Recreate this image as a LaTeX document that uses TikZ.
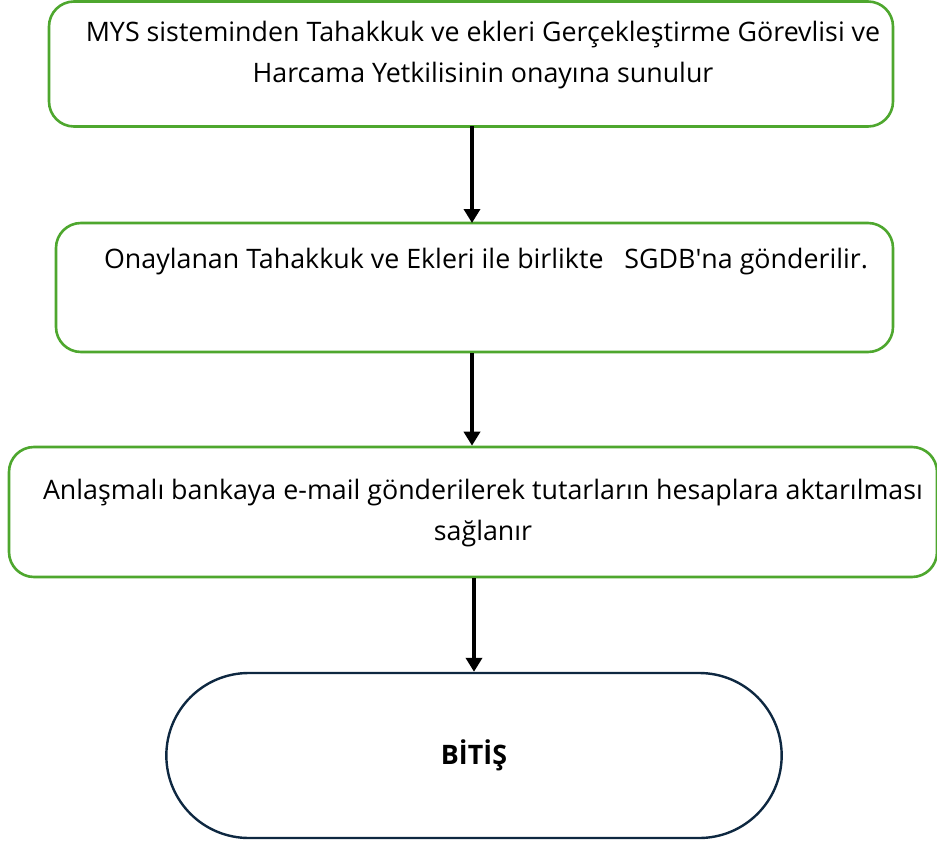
\documentclass[tikz,border=0pt]{standalone}
\usepackage{fontspec}
\setmainfont{Open Sans}
\usetikzlibrary{arrows.meta,shapes.misc}
\definecolor{boxgreen}{HTML}{4EA72E}
\definecolor{endnavy}{HTML}{0E2841}
\begin{document}
\begin{tikzpicture}[x=1pt,y=-1pt,
    stepbox/.style={draw=boxgreen, line width=2.6pt, rounded corners=25pt, fill=white, inner sep=0pt},
    steptext/.style={align=center, font=\fontsize{26.8}{41}\selectfont, inner sep=0pt},
    endbox/.style={draw=endnavy, line width=2.4pt, rounded rectangle, minimum width=622pt, minimum height=165pt, font=\fontsize{26.8}{30}\selectfont\bfseries},
    flow/.style={line width=3.6pt, -{Triangle[width=16pt,length=14pt]}}]
    \useasboundingbox (0,0) rectangle (937,843);
    % boxes
    \node (b1) [stepbox, minimum width=844pt, minimum height=125pt] at (471,64) {};
    \node (b2) [stepbox, minimum width=837pt, minimum height=129pt] at (474.5,287.5) {};
    \node (b3) [stepbox, minimum width=928pt, minimum height=130pt] at (473,512) {};
    \node (bitis) [endbox] at (474,755.5) {BİTİŞ};
    % texts
    \node (t1) [steptext] at (483,55) {MYS sisteminden Tahakkuk ve ekleri Gerçekleştirme Görevlisi ve\\Harcama Yetkilisinin onayına sunulur};
    \node (t2) [steptext] at (486,262) {Onaylanan Tahakkuk ve Ekleri ile birlikte \ \ SGDB\textquotesingle na gönderilir.};
    \node (t3) [steptext] at (483,513) {Anlaşmalı bankaya e-mail gönderilerek tutarların hesaplara aktarılması\\sağlanır};
    % arrows
    \draw[flow] (472,126) -- (472,223);
    \draw[flow] (b2.south -| 472,0) -- (b3.north -| 472,0);
    \draw[flow] (b3.south -| bitis.north) -- (bitis.north);
\end{tikzpicture}
\end{document}
